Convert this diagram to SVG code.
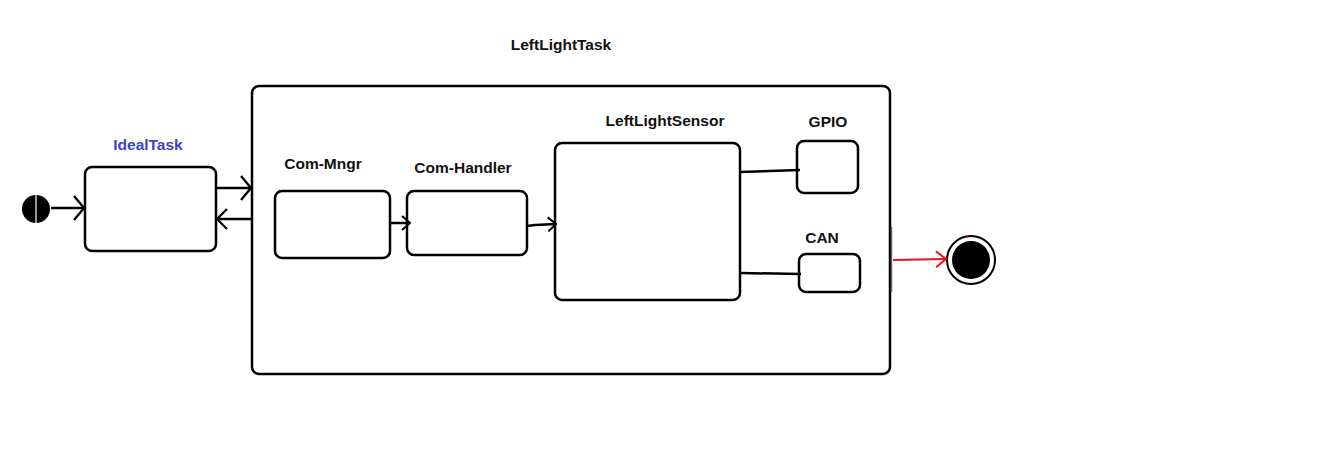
<svg xmlns="http://www.w3.org/2000/svg" width="1323" height="475" viewBox="0 0 1323 475">
<defs>
<style>
.box{fill:#fff;stroke:#000;stroke-width:2.5}
.lbl{font-family:"Liberation Sans",Arial,sans-serif;font-weight:bold;font-size:15.5px;fill:#111;text-anchor:middle}
.ln{stroke:#000;stroke-width:2.5;fill:none}
</style>
<marker id="ah" markerWidth="14" markerHeight="26" refX="11" refY="13" orient="auto" markerUnits="userSpaceOnUse">
<path d="M1,1 L11,13 L1,25" fill="none" stroke="#000" stroke-width="2.3"/>
</marker>
<marker id="ahm" markerWidth="14" markerHeight="22" refX="11" refY="11" orient="auto" markerUnits="userSpaceOnUse">
<path d="M1,1 L11,11 L1,21" fill="none" stroke="#000" stroke-width="2.3"/>
</marker>
<marker id="ahs" markerWidth="12" markerHeight="16" refX="9" refY="8" orient="auto" markerUnits="userSpaceOnUse">
<path d="M1,1 L9,8 L1,15" fill="none" stroke="#000" stroke-width="2"/>
</marker>
<marker id="ahr" markerWidth="14" markerHeight="18" refX="12" refY="9" orient="auto" markerUnits="userSpaceOnUse">
<path d="M2,1 L12,9 L2,17" fill="none" stroke="#e8121b" stroke-width="2"/>
</marker>
</defs>
<rect width="1323" height="475" fill="#fff"/>
<g id="title"><text class="lbl" x="561" y="50">LeftLightTask</text></g>
<g id="LeftLightTask"><rect class="box" x="252" y="86" width="638" height="288" rx="7"/>
<line x1="891.5" y1="227" x2="891.5" y2="292" stroke="#666" stroke-width="1.5"/></g>
<g id="initial"><circle cx="36" cy="209" r="14" fill="#000"/><line x1="36" y1="195" x2="36" y2="223" stroke="#fff" stroke-width="1.2"/></g>
<g id="IdealTask"><rect class="box" x="85" y="167" width="131" height="84" rx="7"/>
<text class="lbl" x="148" y="150" style="fill:#3b45c5">IdealTask</text></g>
<g id="ComMngr"><rect class="box" x="275" y="191" width="115" height="67" rx="7"/><text class="lbl" x="323" y="169">Com-Mngr</text></g>
<g id="ComHandler"><rect class="box" x="407" y="191" width="120" height="64" rx="7"/><text class="lbl" x="463" y="173">Com-Handler</text></g>
<g id="LeftLightSensor"><rect class="box" x="555" y="143" width="185" height="157" rx="7"/><text class="lbl" x="665" y="126">LeftLightSensor</text></g>
<g id="GPIO"><rect class="box" x="797" y="141" width="61" height="52" rx="7"/><text class="lbl" x="828" y="127">GPIO</text></g>
<g id="CAN"><rect class="box" x="799" y="254" width="61" height="38" rx="7"/><text class="lbl" x="822" y="243">CAN</text></g>
<g id="final"><circle cx="971" cy="260" r="24" fill="#fff" stroke="#000" stroke-width="2"/><circle cx="971" cy="260" r="19" fill="#000"/><line x1="967" y1="235" x2="967" y2="238" stroke="#e8121b" stroke-width="1.5"/></g>
<g id="connectors">
<line class="ln" x1="51" y1="208" x2="84" y2="208" marker-end="url(#ah)"/>
<line class="ln" x1="216" y1="188" x2="251" y2="188" marker-end="url(#ah)"/>
<line class="ln" x1="252" y1="219" x2="217" y2="219" marker-end="url(#ahm)"/>
<line class="ln" x1="390" y1="223" x2="410" y2="223" marker-end="url(#ahs)"/>
<polyline class="ln" points="527,226 535,225 556,224" marker-end="url(#ahs)"/>
<line class="ln" x1="740" y1="172" x2="800" y2="170"/>
<line class="ln" x1="740" y1="273" x2="801" y2="274"/>
<line x1="893" y1="260" x2="946" y2="259" stroke="#e8121b" stroke-width="2" marker-end="url(#ahr)"/>
</g>
</svg>
